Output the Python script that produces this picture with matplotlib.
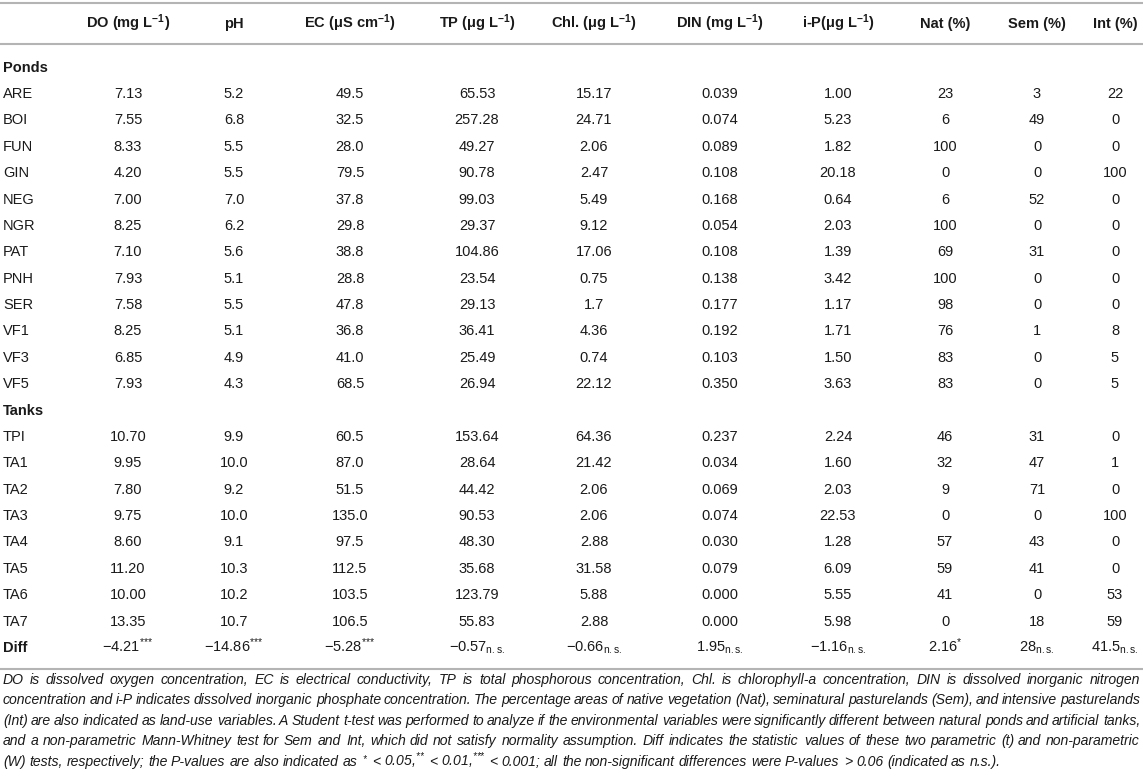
import matplotlib
matplotlib.use("Agg")
import matplotlib.pyplot as plt

plt.rcParams['font.family'] = ['Liberation Sans', 'DejaVu Sans']
plt.rcParams['mathtext.fontset'] = 'custom'
plt.rcParams['mathtext.rm'] = 'Liberation Sans'
plt.rcParams['mathtext.it'] = 'Liberation Sans:italic'
plt.rcParams['mathtext.bf'] = 'Liberation Sans:bold'
plt.rcParams['mathtext.default'] = 'regular'

# ---------------- table content ----------------
Headers = ["DO (mg L$^{-1}$)", "pH", "EC (\u03bcS cm$^{-1}$)", "TP (\u03bcg L$^{-1}$)",
           "Chl. (\u03bcg L$^{-1}$)", "DIN (mg L$^{-1}$)", "i-P(\u03bcg L$^{-1}$)",
           "Nat (%)", "Sem (%)", "Int (%)"]

PondSites = ["ARE", "BOI", "FUN", "GIN", "NEG", "NGR", "PAT", "PNH", "SER", "VF1", "VF3", "VF5"]
TankSites = ["TPI", "TA1", "TA2", "TA3", "TA4", "TA5", "TA6", "TA7"]

# ponds first, then tanks
DO   = ["7.13", "7.55", "8.33", "4.20", "7.00", "8.25", "7.10", "7.93", "7.58", "8.25", "6.85", "7.93",
        "10.70", "9.95", "7.80", "9.75", "8.60", "11.20", "10.00", "13.35"]
pH   = ["5.2", "6.8", "5.5", "5.5", "7.0", "6.2", "5.6", "5.1", "5.5", "5.1", "4.9", "4.3",
        "9.9", "10.0", "9.2", "10.0", "9.1", "10.3", "10.2", "10.7"]
EC   = ["49.5", "32.5", "28.0", "79.5", "37.8", "29.8", "38.8", "28.8", "47.8", "36.8", "41.0", "68.5",
        "60.5", "87.0", "51.5", "135.0", "97.5", "112.5", "103.5", "106.5"]
TP   = ["65.53", "257.28", "49.27", "90.78", "99.03", "29.37", "104.86", "23.54", "29.13", "36.41", "25.49", "26.94",
        "153.64", "28.64", "44.42", "90.53", "48.30", "35.68", "123.79", "55.83"]
Chl  = ["15.17", "24.71", "2.06", "2.47", "5.49", "9.12", "17.06", "0.75", "1.7", "4.36", "0.74", "22.12",
        "64.36", "21.42", "2.06", "2.06", "2.88", "31.58", "5.88", "2.88"]
DIN  = ["0.039", "0.074", "0.089", "0.108", "0.168", "0.054", "0.108", "0.138", "0.177", "0.192", "0.103", "0.350",
        "0.237", "0.034", "0.069", "0.074", "0.030", "0.079", "0.000", "0.000"]
iP   = ["1.00", "5.23", "1.82", "20.18", "0.64", "2.03", "1.39", "3.42", "1.17", "1.71", "1.50", "3.63",
        "2.24", "1.60", "2.03", "22.53", "1.28", "6.09", "5.55", "5.98"]
Nat  = ["23", "6", "100", "0", "6", "100", "69", "100", "98", "76", "83", "83",
        "46", "32", "9", "0", "57", "59", "41", "0"]
Sem  = ["3", "49", "0", "0", "52", "0", "31", "0", "0", "1", "0", "0",
        "31", "47", "71", "0", "43", "41", "0", "18"]
Int  = ["22", "0", "0", "100", "0", "0", "0", "0", "0", "8", "5", "5",
        "0", "1", "0", "100", "0", "0", "53", "59"]

STARS3 = "$^{{*}{*}{*}}$"
NS = "$_{n.s.}$"
DiffValues = ["\u22124.21" + STARS3, "\u221214.86" + STARS3, "\u22125.28" + STARS3, "\u22120.57" + NS,
              "\u22120.66" + NS, "1.95" + NS, "\u22121.16" + NS, "2.16$^{{*}}$",
              "28" + NS, "41.5" + NS]

FootnoteLines = [
    "DO is dissolved oxygen concentration, EC is electrical conductivity, TP is total phosphorous concentration, Chl. is chlorophyll-a concentration, DIN is dissolved inorganic nitrogen",
    "concentration and i-P indicates dissolved inorganic phosphate concentration. The percentage areas of native vegetation (Nat), seminatural pasturelands (Sem), and intensive pasturelands",
    "(Int) are also indicated as land-use variables. A Student t-test was performed to analyze if the environmental variables were significantly different between natural ponds and artificial tanks,",
    "and a non-parametric Mann-Whitney test for Sem and Int, which did not satisfy normality assumption. Diff indicates the statistic values of these two parametric (t) and non-parametric",
    "(W) tests, respectively; the P-values are also indicated as ${}^{{*}}$ < 0.05,${}^{{*}{*}}$ < 0.01,${}^{{*}{*}{*}}$ < 0.001; all the non-significant differences were P-values > 0.06 (indicated as n.s.).",
]

Columns = [DO, pH, EC, TP, Chl, DIN, iP, Nat, Sem, Int]

# ---------------- layout ----------------
W, H = 1143, 777
ColumnX = [128, 234, 350, 477, 594, 720, 838, 945, 1037, 1115]
LabelX = 3
HeaderY = 23
FirstRowY = 93
RowStep = 26.38
FootY0 = 679
FootStep = 20.4
FontSize = 10.5
Base = 5  # centre -> baseline offset in px
MinGap = 2.6
TextColor = "#1a1a1a"
RuleColor = "#b4b4b4"

fig = plt.figure(figsize=(W / 100, H / 100), dpi=100)
ax = fig.add_axes([0, 0, 1, 1])
ax.set_xlim(0, W)
ax.set_ylim(H, 0)
ax.axis("off")
renderer = fig.canvas.get_renderer()

# rules
for y in [3, 44, 669]:
    ax.plot([0, W], [y, y], color=RuleColor, lw=1.5, solid_capstyle="butt")

# header
for x, h in zip(ColumnX, Headers):
    ax.text(x, HeaderY + Base, h, ha="center", va="baseline", fontsize=FontSize,
            fontweight="bold", color=TextColor)


def row_y(i):
    return round(FirstRowY + i * RowStep) + Base


# group labels and rows
ax.text(LabelX, row_y(-1), "Ponds", fontsize=FontSize, fontweight="bold",
        va="baseline", color=TextColor)
ax.text(LabelX, row_y(12), "Tanks", fontsize=FontSize, fontweight="bold",
        va="baseline", color=TextColor)

Sites = PondSites + TankSites
for k, site in enumerate(Sites):
    i = k if k < len(PondSites) else k + 1
    y = row_y(i)
    ax.text(LabelX, y, site, fontsize=FontSize, va="baseline", color=TextColor)
    for x, col in zip(ColumnX, Columns):
        ax.text(x, y, col[k], ha="center", va="baseline", fontsize=FontSize, color=TextColor)

yd = row_y(len(Sites) + 1)
ax.text(LabelX, yd, "Diff", fontsize=FontSize, fontweight="bold", va="baseline", color=TextColor)
for x, v in zip(ColumnX, DiffValues):
    ax.text(x, yd, v, ha="center", va="baseline", fontsize=FontSize, color=TextColor)


# footnote, justified
def text_width(s, fs):
    t = ax.text(0, 0, s, fontsize=fs, style="italic")
    w = t.get_window_extent(renderer).width
    t.remove()
    return w


x0, x1 = 3, 1140
ref_fs = 10
fits = []
for line in FootnoteLines[:-1]:
    words = line.split(" ")
    total = sum(text_width(w, ref_fs) for w in words)
    fits.append(ref_fs * (x1 - x0 - MinGap * (len(words) - 1)) / total)
fs = min(fits)

for n, line in enumerate(FootnoteLines):
    y = round(FootY0 + n * FootStep) + Base
    words = line.split(" ")
    widths = [text_width(w, fs) for w in words]
    if n == len(FootnoteLines) - 1:
        gap = text_width("a a", fs) - text_width("aa", fs)
    else:
        gap = (x1 - x0 - sum(widths)) / (len(words) - 1)
    x = x0
    for w, wd in zip(words, widths):
        ax.text(round(x), y, w, fontsize=fs, style="italic", va="baseline", color=TextColor)
        x += wd + gap

fig.savefig("out.png", dpi=100)
